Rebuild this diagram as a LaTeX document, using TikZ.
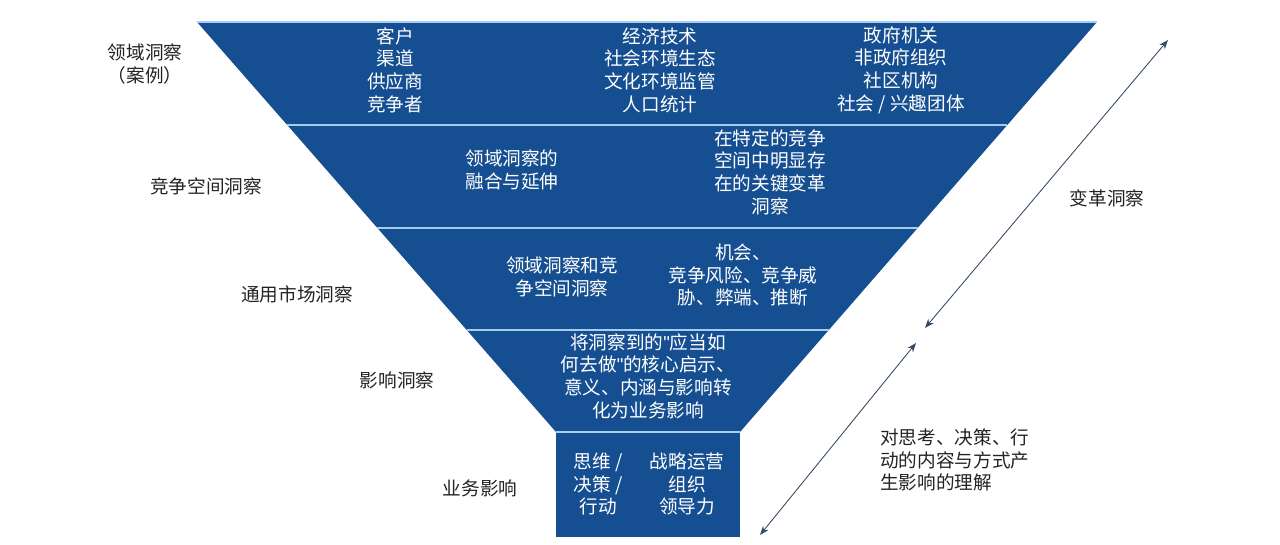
\documentclass[tikz,border=0pt]{standalone}
\usepackage{fontspec}
\setmainfont{Noto Sans CJK SC}
\newfontfamily\quotefont{Liberation Sans}
\usepackage{xcolor}
\usetikzlibrary{arrows.meta,positioning,calc}
\definecolor{funnelblue}{RGB}{22,79,145}
\definecolor{seplight}{RGB}{165,205,240}
\definecolor{arrowgray}{RGB}{55,75,100}
\definecolor{labelgray}{RGB}{35,35,35}
\newcommand{\dq}{{\quotefont\symbol{34}}}

\begin{document}
\begin{tikzpicture}[x=0.2mm, y=-0.2mm,
    inner/.style={text=white, align=center, inner sep=0pt, font=\fontsize{10.6}{12.9}\selectfont},
    side/.style={text=labelgray, align=center, inner sep=0pt, font=\fontsize{10.6}{12.9}\selectfont},
    sep/.style={draw=seplight, line width=0.9pt},
    link/.style={Stealth-Stealth, draw=arrowgray, line width=0.5pt}
]
\useasboundingbox (0,0) rectangle (1280,545);

% Funnel corners
\coordinate (tl) at (197,22);
\coordinate (tr) at (1097,22);
\coordinate (bl) at (556,432);
\coordinate (br) at (740,432);
\coordinate (boxb) at (740,537);

% Funnel and bottom box
\fill[funnelblue] (tl) -- (tr) -- (br) -- (bl) -- cycle;
\fill[funnelblue] (bl) rectangle (boxb);
\draw[sep, line width=0.6pt] (tl) -- (tr);
\foreach \f in {0.2512,0.5024,0.7512,1}
    \draw[sep] ($(tl)!\f!(bl)$) -- ($(tr)!\f!(br)$);

% Band 1: domain
\node[inner] (cust) at (395,70) {客户\\渠道\\供应商\\竞争者};
\node[inner] (env) at (660,70) {经济技术\\社会环境生态\\文化环境监管\\人口统计};
\node[inner] (org) at (901,70) {政府机关\\非政府组织\\社区机构\\社会 / 兴趣团体};
\node[side] (l1) at (145,64) {领域洞察\\（案例）};

% Band 2: competitive space
\node[inner] (fuse) at (512,170) {领域洞察的\\融合与延伸};
\node[inner] (space) at (770,172) {在特定的竞争\\空间中明显存\\在的关键变革\\洞察};
\node[side] (l2) at (206,186) {竞争空间洞察};

% Band 3: general market
\node[inner] (both) at (562,277) {领域洞察和竞\\争空间洞察};
\node[inner] (risk) at (743,275) {机会、\\竞争风险、竞争威\\胁、弊端、推断};
\node[side] (l3) at (297,294) {通用市场洞察};

% Band 4: impact
\node[inner] (todo) at (648,376) {将洞察到的\dq 应当如\\何去做\dq 的核心启示、\\意义、内涵与影响转\\化为业务影响};
\node[side] (l4) at (397,380) {影响洞察};

% Box: business impact
\node[inner] (think) at (598,484) {思维 /\\决策 /\\行动};
\node[inner] (lead) at (687,484) {战略运营\\组织\\领导力};
\node[side] (l5) at (480,488) {业务影响};

% Right side
\coordinate (a1) at (925,328);
\coordinate (a2) at (1168,40);
\coordinate (b1) at (760,535);
\coordinate (b2) at (916,343);
\draw[link] (a1) -- (a2);
\draw[link] (b1) -- (b2);
\node[side] (chg) at (1107,198) {变革洞察};
\node[side, anchor=west, align=left] (und) at (880,460) {对思考、决策、行\\动的内容与方式产\\生影响的理解};

\end{tikzpicture}
\end{document}
